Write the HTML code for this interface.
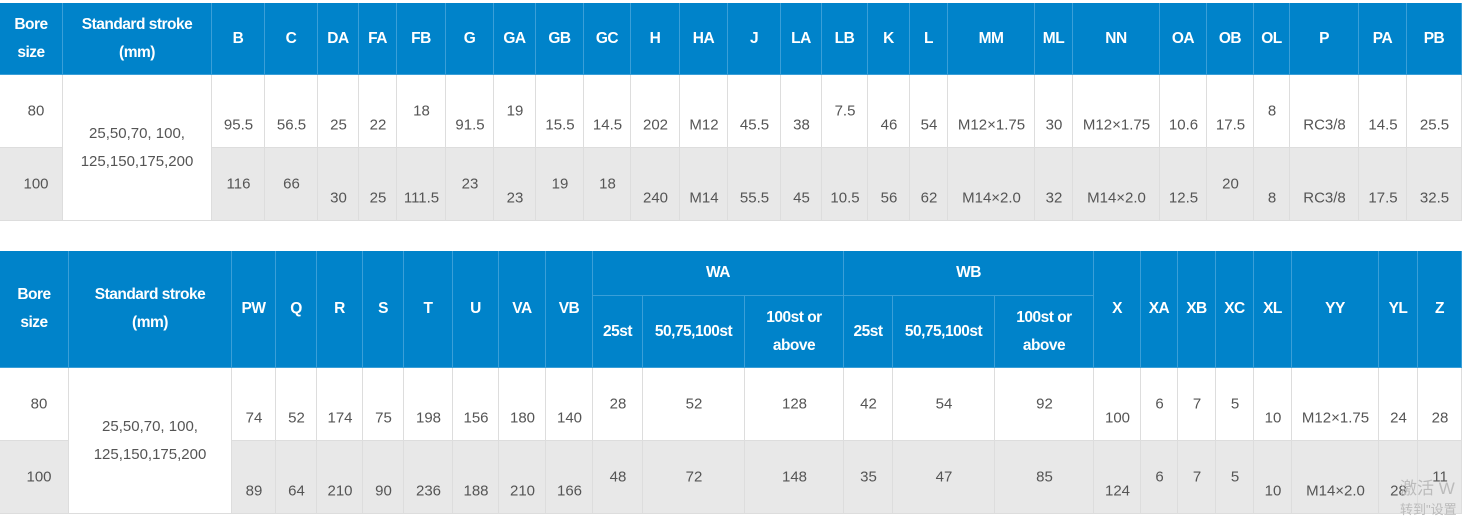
<!DOCTYPE html>
<html><head><meta charset="utf-8"><style>
body{margin:0;width:1467px;height:518px;background:#fff;position:relative;overflow:hidden;font-family:"Liberation Sans",sans-serif}
.c{position:absolute;box-sizing:border-box;border-right:1px solid #ddd;border-bottom:1px solid #ddd;display:flex;align-items:center;justify-content:center;text-align:center;font-size:15px;color:#555;line-height:28px}
.h{background:#0083ca;color:#fff;font-weight:bold;border-color:#3a9fd8;font-size:15.5px;letter-spacing:-0.5px}
.g{background:#e8e8e8}
.t{position:absolute;font-size:15px;color:#555;transform:translate(-50%,-50%);white-space:nowrap}
.wm{position:absolute;color:#bbb;font-family:"Liberation Sans","Noto Sans CJK SC",sans-serif}
</style></head><body>
<div id="root"></div>
<div class="wm" style="left:1400px;top:474px;font-size:17px">激活 W</div>
<div class="wm" style="left:1400px;top:499px;font-size:13px">转到"设置</div>
<script>
const root=document.getElementById('root');
function box(x1,y1,x2,y2,cls,html,name){
 const d=document.createElement('div');
 d.className='c '+cls;
 d.style.left=x1+'px';d.style.top=y1+'px';d.style.width=(x2-x1)+'px';d.style.height=(y2-y1)+'px';
 d.innerHTML=html;
 
 
 root.appendChild(d);return d;
}
function txt(x,y,s,name){
 const d=document.createElement('div');d.className='t';
 d.style.left=x+'px';d.style.top=y+'px';d.textContent=s;
 
 
 root.appendChild(d);
}
// Table 1
const t1x=[0,63,212,265,318,359,397,446,494,536,584,631,680,728,781,822,868,910,948,1035,1073,1160,1207,1254,1290,1359,1407,1462];
const t1h=["B","C","DA","FA","FB","G","GA","GB","GC","H","HA","J","LA","LB","K","L","MM","ML","NN","OA","OB","OL","P","PA","PB"];
const t1r1=["95.5","56.5","25","22","18","91.5","19","15.5","14.5","202","M12","45.5","38","7.5","46","54","M12×1.75","30","M12×1.75","10.6","17.5","8","RC3/8","14.5","25.5"];
const t1hi1=[0,0,0,0,1,0,1,0,0,0,0,0,0,1,0,0,0,0,0,0,0,1,0,0,0];
const t1r2=["116","66","30","25","111.5","23","23","19","18","240","M14","55.5","45","10.5","56","62","M14×2.0","32","M14×2.0","12.5","20","8","RC3/8","17.5","32.5"];
const t1hi2=[1,1,0,0,0,1,0,1,1,0,0,0,0,0,0,0,0,0,0,0,1,0,0,0,0];
box(0,3,63,75,'h','Bore<br>size','t1-bore-header');
box(63,3,212,75,'h','Standard stroke<br>(mm)','t1-stroke-header');
box(0,75,63,148,'','','t1-row1-bore');txt(36,111,'80','t1-bore-80');
box(0,148,63,221,'g','','t1-row2-bore');txt(36,184,'100','t1-bore-100');
box(63,75,212,221,'','25,50,70, 100,<br>125,150,175,200','t1-stroke-values');
for(let i=0;i<t1h.length;i++){
 const a=t1x[i+2],b=t1x[i+3],m=(a+b)/2;
 box(a,3,b,75,'h',t1h[i],'t1-header-'+t1h[i].toLowerCase());
 box(a,75,b,148,'','','t1-r1-cell');
 box(a,148,b,221,'g','','t1-r2-cell');
 txt(m,t1hi1[i]?111:125,t1r1[i],'t1-r1-'+t1h[i].toLowerCase());
 txt(m,t1hi2[i]?184:198,t1r2[i],'t1-r2-'+t1h[i].toLowerCase());
}
// Table 2
const t2x=[0,69,232,276,317,363,404,453,499,546,593,643,745,844,893,995,1094,1141,1178,1216,1254,1292,1379,1418,1462];
const t2h=["PW","Q","R","S","T","U","VA","VB","25st","50,75,100st","100st or<br>above","25st","50,75,100st","100st or<br>above","X","XA","XB","XC","XL","YY","YL","Z"];
const t2r1=["74","52","174","75","198","156","180","140","28","52","128","42","54","92","100","6","7","5","10","M12×1.75","24","28"];
const t2hi1=[0,0,0,0,0,0,0,0,1,1,1,1,1,1,0,1,1,1,0,0,0,0];
const t2r2=["89","64","210","90","236","188","210","166","48","72","148","35","47","85","124","6","7","5","10","M14×2.0","28","11"];
const t2hi2=[0,0,0,0,0,0,0,0,1,1,1,1,1,1,0,1,1,1,0,0,0,1];
box(0,251,69,368,'h','Bore<br>size','t2-bore-header');
box(69,251,232,368,'h','Standard stroke<br>(mm)','t2-stroke-header');
box(0,368,69,441,'','','t2-row1-bore');txt(39,404,'80','t2-bore-80');
box(0,441,69,514,'g','','t2-row2-bore');txt(39,477,'100','t2-bore-100');
box(69,368,232,514,'','25,50,70, 100,<br>125,150,175,200','t2-stroke-values');
box(593,251,844,296,'h','WA','t2-header-wa');
box(844,251,1094,296,'h','WB','t2-header-wb');
for(let i=0;i<t2h.length;i++){
 const a=t2x[i+2],b=t2x[i+3],m=(a+b)/2;
 const sub=(i>=8&&i<=13);
 box(a,sub?296:251,b,368,'h',t2h[i],'t2-header-col');
 box(a,368,b,441,'','','t2-r1-cell');
 box(a,441,b,514,'g','','t2-r2-cell');
 txt(m,t2hi1[i]?404:418,t2r1[i],'t2-r1-value');
 txt(m,t2hi2[i]?477:491,t2r2[i],'t2-r2-value');
}
</script>
</body></html>
